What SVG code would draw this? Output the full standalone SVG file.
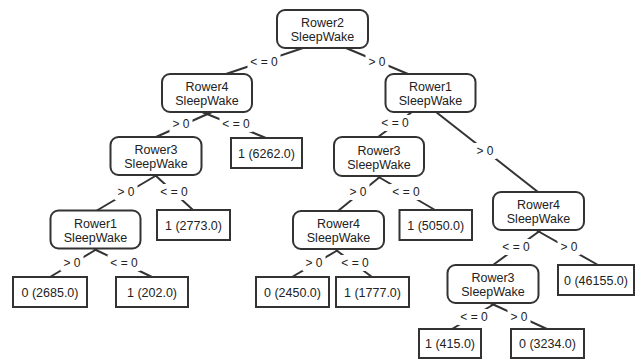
<svg xmlns="http://www.w3.org/2000/svg" width="641" height="360" viewBox="0 0 641 360">
<style>
.n{fill:#fff;stroke:#333;stroke-width:2}
.l{fill:#fff;stroke:#333;stroke-width:2}
.e{stroke:#333;stroke-width:2;fill:none}
.lb{fill:#fff;stroke:none}
text{font-family:"Liberation Sans",Arial,sans-serif;fill:#222;text-anchor:middle}
.t{font-size:12.5px}
.et{font-size:12px}
</style>
<rect width="641" height="360" fill="#fff"/>
<g id="connectors">
<line class="e" x1="303" y1="48" x2="226" y2="74"/>
<line class="e" x1="346" y1="48" x2="408" y2="74"/>
<line class="e" x1="212" y1="112" x2="156" y2="137"/>
<line class="e" x1="202" y1="112" x2="266" y2="138"/>
<line class="e" x1="412" y1="112" x2="378" y2="137"/>
<line class="e" x1="436" y1="112" x2="538" y2="192"/>
<line class="e" x1="157" y1="175" x2="96" y2="211"/>
<line class="e" x1="155" y1="175" x2="193" y2="210"/>
<line class="e" x1="97" y1="249" x2="50" y2="277"/>
<line class="e" x1="94" y1="249" x2="152" y2="277"/>
<line class="e" x1="381" y1="176" x2="338" y2="211"/>
<line class="e" x1="377" y1="176" x2="435" y2="210"/>
<line class="e" x1="338" y1="250" x2="292" y2="277"/>
<line class="e" x1="336" y1="250" x2="372" y2="277"/>
<line class="e" x1="541" y1="230" x2="493" y2="265"/>
<line class="e" x1="536" y1="230" x2="598" y2="265"/>
<line class="e" x1="496" y1="303" x2="452" y2="329"/>
<line class="e" x1="490" y1="303" x2="547" y2="329"/>
<rect class="lb" x="247.5" y="54" width="33" height="16"/><text class="et" x="264" y="66">&lt; = 0</text>
<rect class="lb" x="365.5" y="54" width="23" height="16"/><text class="et" x="377" y="66">&gt; 0</text>
<rect class="lb" x="169.5" y="116" width="23" height="16"/><text class="et" x="181" y="128">&gt; 0</text>
<rect class="lb" x="219.5" y="116" width="33" height="16"/><text class="et" x="236" y="128">&lt; = 0</text>
<rect class="lb" x="378.5" y="115" width="33" height="16"/><text class="et" x="395" y="127">&lt; = 0</text>
<rect class="lb" x="473.5" y="143" width="23" height="16"/><text class="et" x="485" y="155">&gt; 0</text>
<rect class="lb" x="114.5" y="184" width="23" height="16"/><text class="et" x="126" y="196">&gt; 0</text>
<rect class="lb" x="157.5" y="184" width="33" height="16"/><text class="et" x="174" y="196">&lt; = 0</text>
<rect class="lb" x="60.5" y="255" width="23" height="16"/><text class="et" x="72" y="267">&gt; 0</text>
<rect class="lb" x="107.5" y="255" width="33" height="16"/><text class="et" x="124" y="267">&lt; = 0</text>
<rect class="lb" x="346.5" y="184" width="23" height="16"/><text class="et" x="358" y="196">&gt; 0</text>
<rect class="lb" x="389.5" y="184" width="33" height="16"/><text class="et" x="406" y="196">&lt; = 0</text>
<rect class="lb" x="302.5" y="255" width="23" height="16"/><text class="et" x="314" y="267">&gt; 0</text>
<rect class="lb" x="338.5" y="255" width="33" height="16"/><text class="et" x="355" y="267">&lt; = 0</text>
<rect class="lb" x="499.5" y="239" width="33" height="16"/><text class="et" x="516" y="251">&lt; = 0</text>
<rect class="lb" x="557.5" y="239" width="23" height="16"/><text class="et" x="569" y="251">&gt; 0</text>
<rect class="lb" x="457.5" y="309" width="33" height="16"/><text class="et" x="474" y="321">&lt; = 0</text>
<rect class="lb" x="507.5" y="309" width="23" height="16"/><text class="et" x="519" y="321">&gt; 0</text>
</g>
<g id="n_root"><rect class="n" x="277" y="10" width="91" height="38" rx="8"/><text class="t" x="322.5" y="27">Rower2</text><text class="t" x="322.5" y="41">SleepWake</text></g>
<g id="n_l"><rect class="n" x="162" y="74" width="90" height="38" rx="8"/><text class="t" x="207" y="91">Rower4</text><text class="t" x="207" y="105">SleepWake</text></g>
<g id="n_r"><rect class="n" x="385.5" y="74" width="90" height="38" rx="8"/><text class="t" x="430.5" y="91">Rower1</text><text class="t" x="430.5" y="105">SleepWake</text></g>
<g id="n_ll"><rect class="n" x="110.5" y="137" width="91" height="38" rx="8"/><text class="t" x="156" y="154">Rower3</text><text class="t" x="156" y="168">SleepWake</text></g>
<g id="leaf_6262"><rect class="l" x="231" y="138" width="71" height="30"/><text class="t" x="266.5" y="157.5">1 (6262.0)</text></g>
<g id="n_rl"><rect class="n" x="334" y="137" width="90" height="39" rx="8"/><text class="t" x="379" y="154.5">Rower3</text><text class="t" x="379" y="168.5">SleepWake</text></g>
<g id="n_lll"><rect class="n" x="50.5" y="210.5" width="90" height="38" rx="8"/><text class="t" x="95.5" y="227.5">Rower1</text><text class="t" x="95.5" y="241.5">SleepWake</text></g>
<g id="leaf_2773"><rect class="l" x="157" y="210" width="73" height="30"/><text class="t" x="193.5" y="229.5">1 (2773.0)</text></g>
<g id="n_rll"><rect class="n" x="293" y="211" width="91" height="38" rx="8"/><text class="t" x="338.5" y="228">Rower4</text><text class="t" x="338.5" y="242">SleepWake</text></g>
<g id="leaf_5050"><rect class="l" x="399.5" y="210" width="72.5" height="30"/><text class="t" x="435.7" y="229.5">1 (5050.0)</text></g>
<g id="n_rr"><rect class="n" x="493" y="192" width="91" height="38" rx="8"/><text class="t" x="538.5" y="209">Rower4</text><text class="t" x="538.5" y="223">SleepWake</text></g>
<g id="leaf_46155"><rect class="l" x="558" y="265" width="76" height="30"/><text class="t" x="596" y="284.5">0 (46155.0)</text></g>
<g id="n_rrl"><rect class="n" x="447.5" y="265" width="91" height="38" rx="8"/><text class="t" x="493" y="282">Rower3</text><text class="t" x="493" y="296">SleepWake</text></g>
<g id="leaf_2685"><rect class="l" x="13" y="277" width="74" height="30"/><text class="t" x="50" y="296.5">0 (2685.0)</text></g>
<g id="leaf_202"><rect class="l" x="116" y="277" width="72" height="30"/><text class="t" x="152" y="296.5">1 (202.0)</text></g>
<g id="leaf_2450"><rect class="l" x="256" y="277" width="73" height="30"/><text class="t" x="292.5" y="296.5">0 (2450.0)</text></g>
<g id="leaf_1777"><rect class="l" x="336" y="277" width="73" height="30"/><text class="t" x="372.5" y="296.5">1 (1777.0)</text></g>
<g id="leaf_415"><rect class="l" x="419" y="329" width="62" height="29"/><text class="t" x="450" y="348">1 (415.0)</text></g>
<g id="leaf_3234"><rect class="l" x="511" y="329" width="73" height="29"/><text class="t" x="547.5" y="348">0 (3234.0)</text></g>
</svg>
